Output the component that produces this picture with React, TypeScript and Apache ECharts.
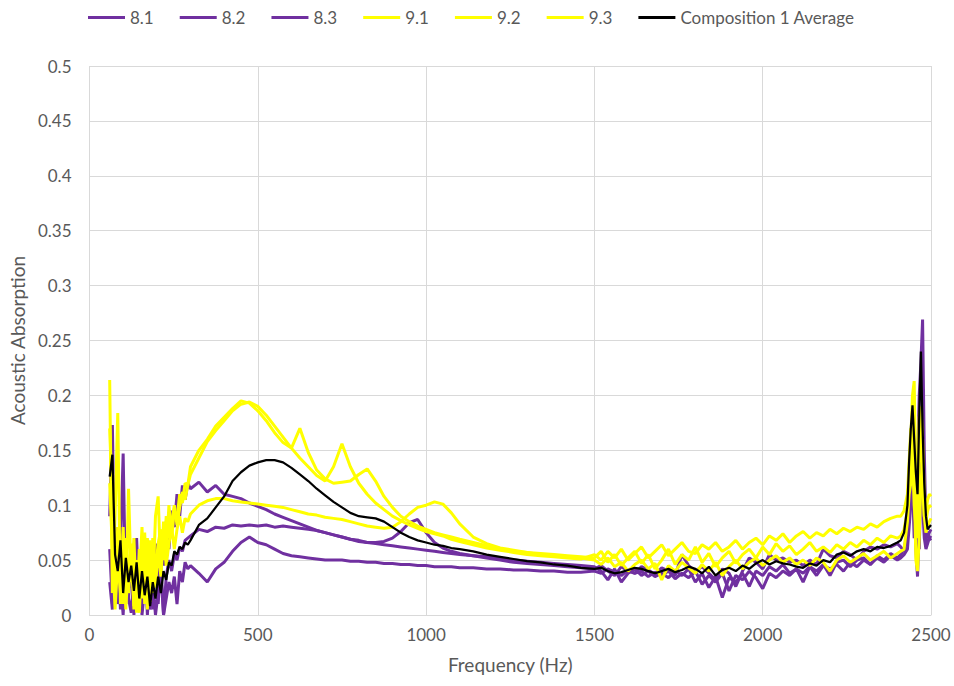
import React, { useEffect, useRef } from "react";
import * as echarts from "echarts";

const freq = [
  60, 68, 76, 84, 92, 100, 108, 116, 124, 132, 140, 148, 156, 164, 172, 180, 188, 196, 204, 212, 220, 228, 236, 244, 252, 260, 268, 276, 284, 292,
  300, 325, 350, 375, 400, 425, 450, 475, 500, 525, 550, 575, 600, 625, 650, 675, 700, 725, 750, 775, 800, 825, 850, 875, 900, 925, 950, 975, 1000, 1025, 1050, 1075, 1100,
  1140, 1180, 1220, 1260, 1300, 1340, 1380, 1420, 1460,
  1500, 1520, 1540, 1560, 1580, 1600, 1620, 1640, 1660, 1680, 1700, 1720, 1740, 1760, 1780, 1800, 1820, 1840, 1860, 1880, 1900, 1920, 1940, 1960, 1980,
  2000, 2020, 2040, 2060, 2080, 2100, 2120, 2140, 2160, 2180, 2200, 2220, 2240, 2260, 2280, 2300, 2320, 2340, 2360, 2380, 2400,
  2410, 2420, 2430, 2435, 2440, 2445, 2450, 2455, 2460, 2465, 2470, 2475, 2480, 2485, 2490, 2495, 2500,
];

const s81 = [
  0.090, 0.173, 0.020, 0.060, 0.005, 0.040, 0.070, 0.015, 0.050, 0.000, 0.035, 0.055, 0.010, 0.045, 0.020, 0.060, 0.005, 0.050, 0.030, 0.070, 0.045, 0.085, 0.060, 0.095, 0.080, 0.110, 0.090, 0.118, 0.105, 0.120,
  0.115, 0.121, 0.112, 0.118, 0.110, 0.108, 0.106, 0.102, 0.099, 0.096, 0.092, 0.089, 0.086, 0.083, 0.080, 0.077, 0.075, 0.073, 0.071, 0.069, 0.068, 0.066, 0.065, 0.064, 0.063, 0.062, 0.061, 0.060, 0.059, 0.058, 0.057, 0.056, 0.055,
  0.054, 0.053, 0.052, 0.050, 0.049, 0.048, 0.047, 0.046, 0.045,
  0.044, 0.040, 0.032, 0.042, 0.030, 0.038, 0.042, 0.036, 0.040, 0.035, 0.038, 0.034, 0.040, 0.036, 0.042, 0.030, 0.038, 0.025, 0.035, 0.016,
  0.034, 0.030, 0.038, 0.026, 0.040, 0.036, 0.044, 0.040, 0.046, 0.038, 0.042, 0.030, 0.044, 0.040, 0.046, 0.036, 0.048, 0.050, 0.044, 0.050,
  0.052, 0.046, 0.054, 0.050, 0.056, 0.052,
  0.055, 0.060, 0.070, 0.090, 0.130, 0.160, 0.120, 0.090, 0.140, 0.200, 0.230, 0.269, 0.150, 0.080, 0.070, 0.075, 0.078,
];

const s82 = [
  0.060, 0.010, 0.080, 0.030, 0.060, 0.147, 0.010, 0.050, 0.025, 0.040, 0.070, 0.005, 0.030, 0.055, 0.000, 0.040, 0.020, 0.065, 0.010, 0.045, 0.000, 0.035, 0.050, 0.040, 0.055, 0.050, 0.062, 0.058, 0.068, 0.070,
  0.072, 0.078, 0.076, 0.080, 0.079, 0.082, 0.081, 0.082, 0.081, 0.082, 0.080, 0.081, 0.080, 0.079, 0.078, 0.077, 0.075, 0.073, 0.071, 0.069, 0.067, 0.066, 0.066, 0.067, 0.070, 0.076, 0.084, 0.087, 0.075, 0.066, 0.061, 0.058, 0.056,
  0.054, 0.052, 0.050, 0.048, 0.047, 0.046, 0.045, 0.044, 0.043,
  0.042, 0.045, 0.040, 0.036, 0.044, 0.040, 0.038, 0.044, 0.041, 0.037, 0.043, 0.040, 0.036, 0.055, 0.045, 0.040, 0.044, 0.038, 0.032, 0.042,
  0.038, 0.026, 0.040, 0.052, 0.048, 0.042, 0.055, 0.050, 0.052, 0.048, 0.050, 0.045, 0.050, 0.046, 0.060, 0.054, 0.052, 0.058, 0.055, 0.050,
  0.058, 0.062, 0.060, 0.064, 0.062, 0.065,
  0.062, 0.058, 0.080, 0.110, 0.150, 0.120, 0.070, 0.140, 0.100, 0.060, 0.120, 0.180, 0.090, 0.065, 0.068, 0.070, 0.072,
];

const s83 = [
  0.030, 0.005, 0.045, 0.010, 0.030, 0.000, 0.050, 0.015, 0.002, 0.035, 0.010, 0.040, 0.000, 0.025, 0.045, 0.005, 0.030, 0.000, 0.020, 0.040, 0.000, 0.015, 0.030, 0.020, 0.035, 0.010, 0.040, 0.030, 0.048, 0.042,
  0.045, 0.038, 0.030, 0.042, 0.048, 0.058, 0.066, 0.071, 0.066, 0.064, 0.060, 0.056, 0.054, 0.053, 0.052, 0.051, 0.050, 0.050, 0.050, 0.049, 0.049, 0.048, 0.048, 0.047, 0.047, 0.046, 0.046, 0.045, 0.045, 0.044, 0.044, 0.044, 0.043,
  0.043, 0.042, 0.042, 0.041, 0.041, 0.040, 0.040, 0.039, 0.039,
  0.040, 0.038, 0.042, 0.039, 0.036, 0.041, 0.038, 0.040, 0.035, 0.039, 0.036, 0.040, 0.033, 0.038, 0.034, 0.040, 0.028, 0.036, 0.030, 0.038,
  0.022, 0.036, 0.032, 0.040, 0.034, 0.024, 0.038, 0.034, 0.040, 0.036, 0.042, 0.038, 0.044, 0.036, 0.045, 0.042, 0.046, 0.040, 0.048, 0.044,
  0.050, 0.046, 0.052, 0.048, 0.054, 0.050,
  0.052, 0.055, 0.060, 0.080, 0.100, 0.140, 0.100, 0.060, 0.035, 0.080, 0.150, 0.100, 0.070, 0.060, 0.065, 0.070, 0.068,
];

const s91 = [
  0.214, 0.020, 0.090, 0.184, 0.010, 0.060, 0.005, 0.115, 0.030, 0.070, 0.002, 0.060, 0.015, 0.075, 0.005, 0.068, 0.020, 0.090, 0.108, 0.040, 0.085, 0.055, 0.100, 0.070, 0.095, 0.088, 0.110, 0.102, 0.120, 0.118,
  0.135, 0.150, 0.160, 0.172, 0.180, 0.188, 0.195, 0.193, 0.186, 0.177, 0.166, 0.157, 0.152, 0.170, 0.148, 0.132, 0.124, 0.120, 0.121, 0.122, 0.128, 0.133, 0.122, 0.108, 0.098, 0.090, 0.085, 0.081, 0.078, 0.075, 0.073, 0.071, 0.069,
  0.066, 0.063, 0.060, 0.058, 0.057, 0.056, 0.055, 0.054, 0.053,
  0.052, 0.058, 0.048, 0.055, 0.045, 0.052, 0.058, 0.047, 0.055, 0.042, 0.050, 0.060, 0.046, 0.055, 0.050, 0.062, 0.048, 0.056, 0.044, 0.052,
  0.058, 0.047, 0.055, 0.060, 0.052, 0.062, 0.055, 0.065, 0.058, 0.063, 0.055, 0.060, 0.066, 0.058, 0.062, 0.057, 0.064, 0.060, 0.066, 0.062,
  0.068, 0.064, 0.070, 0.066, 0.072, 0.070,
  0.072, 0.078, 0.095, 0.130, 0.160, 0.200, 0.213, 0.120, 0.070, 0.150, 0.180, 0.120, 0.090, 0.085, 0.095, 0.100, 0.098,
];

const s92 = [
  0.170, 0.100, 0.030, 0.080, 0.045, 0.010, 0.070, 0.020, 0.060, 0.005, 0.050, 0.030, 0.080, 0.010, 0.060, 0.025, 0.070, 0.040, 0.065, 0.078, 0.050, 0.090, 0.070, 0.085, 0.100, 0.082, 0.098, 0.112, 0.105, 0.118,
  0.128, 0.143, 0.158, 0.168, 0.177, 0.186, 0.192, 0.194, 0.190, 0.182, 0.172, 0.162, 0.152, 0.143, 0.135, 0.127, 0.122, 0.135, 0.156, 0.135, 0.120, 0.110, 0.102, 0.096, 0.090, 0.086, 0.082, 0.079, 0.076, 0.074, 0.072, 0.069, 0.067,
  0.064, 0.061, 0.059, 0.057, 0.055, 0.054, 0.053, 0.052, 0.051,
  0.055, 0.050, 0.058, 0.052, 0.060, 0.050, 0.056, 0.062, 0.052, 0.058, 0.064, 0.054, 0.060, 0.066, 0.058, 0.056, 0.064, 0.060, 0.066, 0.058,
  0.062, 0.068, 0.060, 0.066, 0.070, 0.064, 0.072, 0.068, 0.074, 0.066, 0.072, 0.076, 0.070, 0.075, 0.072, 0.078, 0.074, 0.079, 0.076, 0.080,
  0.078, 0.083, 0.080, 0.085, 0.088, 0.090,
  0.090, 0.095, 0.110, 0.140, 0.170, 0.150, 0.100, 0.080, 0.130, 0.180, 0.190, 0.160, 0.110, 0.095, 0.105, 0.110, 0.108,
];

const s93 = [
  0.120, 0.060, 0.005, 0.050, 0.020, 0.080, 0.010, 0.040, 0.065, 0.008, 0.045, 0.002, 0.055, 0.030, 0.070, 0.012, 0.050, 0.025, 0.060, 0.035, 0.075, 0.045, 0.065, 0.080, 0.060, 0.078, 0.090, 0.075, 0.088, 0.085,
  0.092, 0.100, 0.104, 0.106, 0.106, 0.104, 0.103, 0.102, 0.101, 0.100, 0.099, 0.098, 0.096, 0.094, 0.092, 0.091, 0.089, 0.088, 0.087, 0.085, 0.083, 0.081, 0.080, 0.079, 0.080, 0.085, 0.092, 0.098, 0.100, 0.103, 0.101, 0.093, 0.083,
  0.071, 0.065, 0.061, 0.059, 0.057, 0.055, 0.054, 0.053, 0.052,
  0.050, 0.046, 0.052, 0.044, 0.048, 0.040, 0.046, 0.050, 0.042, 0.047, 0.032, 0.045, 0.040, 0.048, 0.043, 0.038, 0.046, 0.040, 0.048, 0.036,
  0.044, 0.050, 0.042, 0.048, 0.052, 0.045, 0.050, 0.054, 0.048, 0.052, 0.046, 0.050, 0.045, 0.052, 0.048, 0.040, 0.050, 0.054, 0.048, 0.052,
  0.056, 0.050, 0.054, 0.058, 0.052, 0.056,
  0.058, 0.060, 0.085, 0.110, 0.120, 0.180, 0.130, 0.050, 0.040, 0.070, 0.120, 0.140, 0.090, 0.075, 0.080, 0.085, 0.088,
];

const avg = [
  0.126, 0.146, 0.055, 0.040, 0.068, 0.020, 0.052, 0.030, 0.045, 0.022, 0.048, 0.015, 0.040, 0.018, 0.035, 0.008, 0.030, 0.015, 0.035, 0.020, 0.040, 0.032, 0.048, 0.045, 0.058, 0.055, 0.062, 0.060, 0.066, 0.064,
  0.068, 0.082, 0.088, 0.098, 0.108, 0.122, 0.130, 0.136, 0.139, 0.141, 0.141, 0.139, 0.134, 0.128, 0.122, 0.115, 0.109, 0.103, 0.098, 0.093, 0.090, 0.089, 0.088, 0.085, 0.080, 0.075, 0.071, 0.068, 0.066, 0.064, 0.063, 0.061, 0.060,
  0.058, 0.055, 0.053, 0.051, 0.049, 0.048, 0.046, 0.045, 0.043,
  0.042, 0.043, 0.040, 0.038, 0.039, 0.041, 0.043, 0.042, 0.040, 0.038, 0.040, 0.042, 0.039, 0.041, 0.044, 0.042, 0.038, 0.044, 0.036, 0.041,
  0.043, 0.040, 0.045, 0.042, 0.047, 0.050, 0.046, 0.049, 0.047, 0.046, 0.044, 0.043, 0.047, 0.045, 0.050, 0.048, 0.055, 0.057, 0.054, 0.058,
  0.060, 0.058, 0.062, 0.061, 0.063, 0.066,
  0.068, 0.075, 0.100, 0.140, 0.170, 0.191, 0.160, 0.130, 0.110, 0.180, 0.240, 0.170, 0.120, 0.090, 0.078, 0.080, 0.082,
];

const seriesNames = ["8.1", "8.2", "8.3", "9.1", "9.2", "9.3", "Composition 1 Average"];
const seriesValues = [s81, s82, s83, s91, s92, s93, avg];
const seriesColors = ["#7030A0", "#7030A0", "#7030A0", "#FFFF00", "#FFFF00", "#FFFF00", "#000000"];
const seriesWidths = [3, 3, 3, 3, 3, 3, 2.25];

const FONT = "Lato, 'Open Sans', sans-serif";
const GREY = "#595959";

export default function App() {
  const ref = useRef<HTMLDivElement>(null);
  useEffect(() => {
    const chart = echarts.init(ref.current!, undefined, { renderer: "svg" });
    chart.setOption({
      animation: false,
      backgroundColor: "#ffffff",
      textStyle: { fontFamily: FONT },
      legend: {
        left: 83,
        top: 4,
        icon: "rect",
        itemWidth: 37,
        itemHeight: 3,
        itemGap: 26,
        textStyle: { color: GREY, fontSize: 17, fontFamily: FONT },
        data: seriesNames,
      },
      grid: { left: 87, right: 23, top: 66, bottom: 71, containLabel: false },
      xAxis: {
        type: "value",
        min: 0,
        max: 2500,
        interval: 500,
        axisLine: { show: true, lineStyle: { color: "#d9d9d9", width: 1 } },
        axisTick: { show: false },
        axisLabel: {
          color: GREY,
          fontSize: 17,
          margin: 11,
          fontFamily: FONT,
          formatter: (v: number) => String(v),
        },
        splitLine: { show: true, lineStyle: { color: "#d9d9d9", width: 1 } },
        name: "Frequency (Hz)",
        nameLocation: "middle",
        nameGap: 40,
        nameTextStyle: { color: GREY, fontSize: 19, fontFamily: FONT },
      },
      yAxis: {
        type: "value",
        min: 0,
        max: 0.5,
        interval: 0.05,
        axisLine: { show: false },
        axisTick: { show: false },
        axisLabel: { color: GREY, fontSize: 17, margin: 18, fontFamily: FONT },
        splitLine: { show: true, lineStyle: { color: "#d9d9d9", width: 1 } },
        name: "Acoustic Absorption",
        nameLocation: "middle",
        nameGap: 60,
        nameTextStyle: { color: GREY, fontSize: 19, fontFamily: FONT },
      },
      series: seriesNames.map((name, k) => ({
        name,
        type: "line",
        symbol: "none",
        showSymbol: false,
        smooth: false,
        data: freq.map((f, i) => [f, seriesValues[k][i]]),
        lineStyle: { color: seriesColors[k], width: seriesWidths[k] },
        itemStyle: { color: seriesColors[k] },
        emphasis: { disabled: true },
      })),
    });
    return () => chart.dispose();
  }, []);
  return (
    <div
      ref={ref}
      style={{ position: "fixed", left: 0, top: 0, width: 954, height: 686, background: "#fff" }}
    />
  );
}
